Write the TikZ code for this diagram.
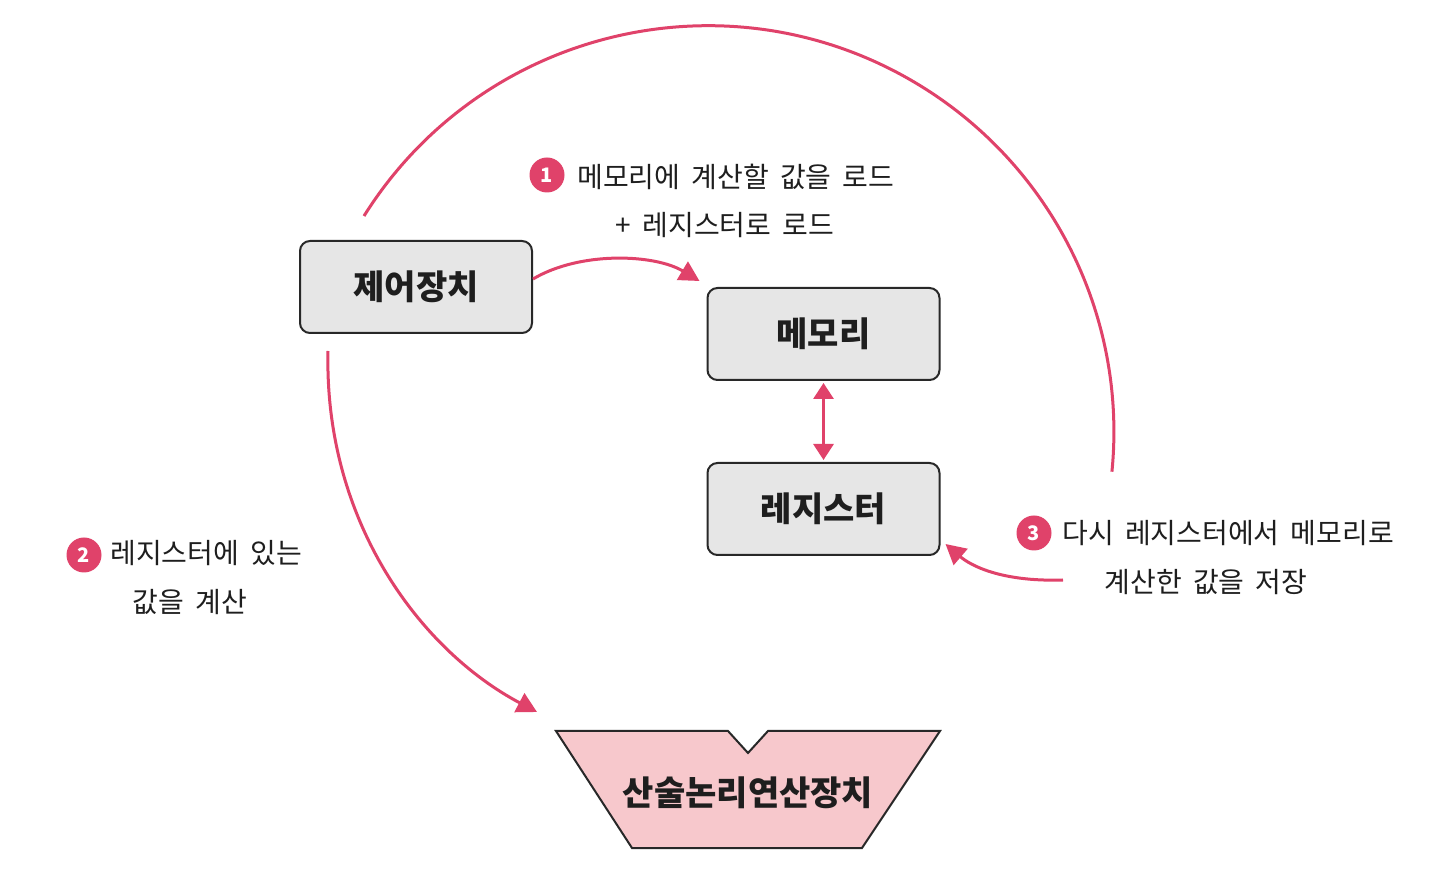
\documentclass[tikz,border=0pt]{standalone}
\usepackage{fontspec}
\newfontfamily\kr{Noto Sans CJK KR}
\newcommand\mynotefont{\kr\fontsize{14}{16}\selectfont\spaceskip 0.4em plus 0.1em\relax}
\usetikzlibrary{arrows.meta}
\definecolor{accent}{RGB}{224,66,106}
\definecolor{boxfill}{RGB}{230,230,230}
\definecolor{boxline}{RGB}{40,40,40}
\definecolor{alufill}{RGB}{247,200,204}
\definecolor{ink}{RGB}{30,30,30}
\begin{document}
\begin{tikzpicture}[x=0.5pt,y=0.5pt,
  unitbox/.style={draw=boxline, line width=1pt, fill=boxfill, rounded corners=5pt,
    minimum width=116pt, minimum height=46pt, inner sep=0pt, text=ink,
    font=\kr\bfseries\fontsize{17}{19}\selectfont},
  note/.style={inner sep=0pt, text=ink, font=\mynotefont},
  badge/.style={circle, fill=accent, minimum size=17.5pt, inner sep=0pt, text=white,
    font=\kr\bfseries\fontsize{10}{12}\selectfont},
  flow/.style={draw=accent, line width=1.5pt},
  arr/.style={flow, -{Triangle[length=10pt,width=10.5pt]}},
  dbl/.style={flow, {Triangle[length=8pt,width=10pt]}-{Triangle[length=8pt,width=10pt]}}
]
\useasboundingbox (0,0) rectangle (1435,889);
\fill[white] (0,0) rectangle (1435,889);

% units
\node[unitbox] (ctrl) at (416,602) {제어장치};
\node[unitbox] (mem) at (823.5,555) {메모리};
\node[unitbox] (reg) at (823.5,380) {레지스터};

% ALU
\draw[draw=boxline, line width=1pt, fill=alufill]
  (556,158) coordinate (aluTL) -- (728,158) -- (748,136) -- (768,158) -- (940,158)
  -- (862,41) -- (632,41) -- cycle;
\node[inner sep=0pt, text=ink, font=\kr\bfseries\fontsize{17}{19}\selectfont] (alu) at (748,96) {산술논리연산장치};

% connectors
\coordinate (arcS) at ([shift={(65,24)}]ctrl.north west);
\draw[flow] (arcS) arc[start angle=147.9, end angle=-5.65, radius=406];

\draw[arr] ([yshift=4]ctrl.east) .. controls +(47,28) and +(-45,27) .. ([shift={(-7,6)}]mem.north west);

\draw[dbl, shorten <=1pt, shorten >=1pt] (mem.south) -- (reg.north);

\coordinate (s2) at ([shift={(29,-17)}]ctrl.south west);
\draw[arr] (s2) .. controls +(-4,-170) and +(-117,62) .. ([shift={(-19,19)}]aluTL);

\coordinate (s3) at (1063,309);
\draw[arr] (s3) .. controls (1000,307) and (970,324) .. ([shift={(5,12)}]reg.south east);

% step labels
\node[badge] (b1) at (547,714) {1};
\node[note, anchor=west] (n1a) at (577,712) {메모리에 계산할 값을 로드};
\node[note] (n1b) at (725,664) {+ 레지스터로 로드};

\node[badge] (b2) at (84,334) {2};
\node[note, anchor=west] (n2a) at (110,336) {레지스터에 있는};
\node[note] (n2b) at (190,287) {값을 계산};

\node[badge] (b3) at (1034,356) {3};
\node[note, anchor=west] (n3a) at (1062,356) {다시 레지스터에서 메모리로};
\node[note] (n3b) at (1206,307) {계산한 값을 저장};
\end{tikzpicture}
\end{document}
